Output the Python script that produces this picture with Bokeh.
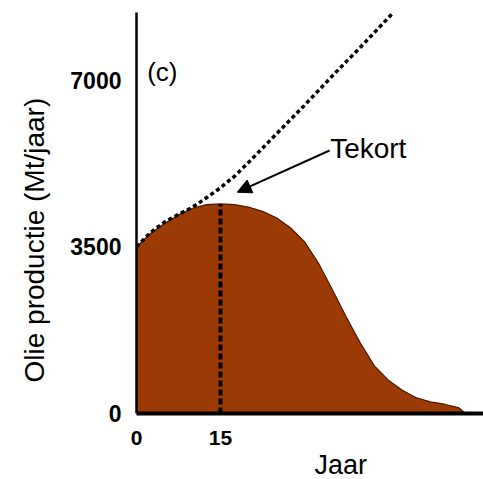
import numpy as np
from bokeh.plotting import figure
from bokeh.models import Range1d, FixedTicker, Label, Arrow, NormalHead, Title
from bokeh.embed import file_html
from bokeh.resources import INLINE

# --- data ---
years = [0, 2.5, 5, 7.5, 10, 12.5, 15, 17.5, 20, 22.5, 25, 27.5, 30, 32.5,
         35, 37.5, 40, 42.5, 45, 47.5, 50, 52.5, 55, 57.5, 58.8]
production = [3500, 3780, 3990, 4170, 4310, 4385, 4400, 4385, 4335, 4245,
              4110, 3900, 3610, 3160, 2600, 2020, 1480, 1000, 700, 490,
              330, 245, 195, 125, 0]
demand_years = [0, 2.5, 5, 7.5, 10, 12.5, 15, 17.5, 20, 25, 30, 35, 40, 45.9]
demand = [3500, 3800, 4020, 4180, 4330, 4530, 4740, 4980, 5270, 5870,
          6470, 7090, 7690, 8420]
y_ticks = [0, 3500, 7000]
x_ticks = [0, 15]

FONT = "Liberation Sans"
BROWN = "#9b3a04"

p = figure(width=483, height=479, output_backend="svg", toolbar_location=None,
           x_range=Range1d(0, 62), y_range=Range1d(0, 8420),
           min_border_left=136, min_border_right=0, min_border_top=12,
           min_border_bottom=66)
p.outline_line_color = None
p.xgrid.grid_line_color = None
p.ygrid.grid_line_color = None
p.background_fill_color = "white"

# production area
p.varea(x=years, y1=0, y2=production, fill_color=BROWN)
p.line(years, production, line_color="#4a1a00", line_width=1.2)

# demand dotted line
p.line(demand_years, demand, line_color="black", line_width=3.5,
       line_dash="4 3")

# dashed vertical line at the peak
i_peak = int(np.argmax(production))
p.segment(x0=[years[i_peak]], y0=[0], x1=[years[i_peak]], y1=[production[i_peak]],
          line_color="black", line_width=4, line_dash="6 3")

# axes
for ax in p.yaxis:
    ax.ticker = FixedTicker(ticks=y_ticks)
    ax.major_tick_line_color = None
    ax.minor_tick_line_color = None
    ax.axis_line_color = "black"
    ax.axis_line_width = 2.5
    ax.major_label_text_font = FONT
    ax.major_label_text_font_style = "bold"
    ax.major_label_text_font_size = "23px"
    ax.major_label_text_color = "black"
    ax.major_label_standoff = 9

for ax in p.xaxis:
    ax.ticker = FixedTicker(ticks=x_ticks)
    ax.major_tick_line_color = None
    ax.minor_tick_line_color = None
    ax.axis_line_color = "black"
    ax.axis_line_width = 4
    ax.major_label_text_font = FONT
    ax.major_label_text_font_style = "bold"
    ax.major_label_text_font_size = "21px"
    ax.major_label_text_color = "black"
    ax.major_label_standoff = 11

# axis titles as side titles (so they can be offset)
ytitle = Title(text="Olie productie (Mt/jaar)", align="left", offset=31,
               vertical_align="top",
               text_font=FONT, text_font_size="28px", text_font_style="normal",
               text_color="black")
xtitle = Title(text="Jaar", align="left", offset=178,
               text_font=FONT, text_font_size="27px", text_font_style="normal",
               text_color="black")
if "standoff" in Title.properties():
    ytitle.standoff = 32
    xtitle.standoff = 0
p.add_layout(ytitle, "left")
p.add_layout(xtitle, "below")

# texts inside the plot
p.add_layout(Label(x=1.9, y=7170, text="(c)", text_align="left",
                   text_baseline="middle",
                   text_font=FONT, text_font_size="26px", text_color="black"))
p.add_layout(Label(x=34.6, y=5567, text="Tekort", text_align="left",
                   text_baseline="alphabetic",
                   text_font=FONT, text_font_size="28px", text_color="black"))
p.add_layout(Arrow(x_start=34.5, y_start=5523, x_end=18.0, y_end=4647,
                   line_color="black", line_width=2,
                   end=NormalHead(size=14, fill_color="black", line_color="black")))

open("out.html", "w").write(file_html(p, INLINE))
